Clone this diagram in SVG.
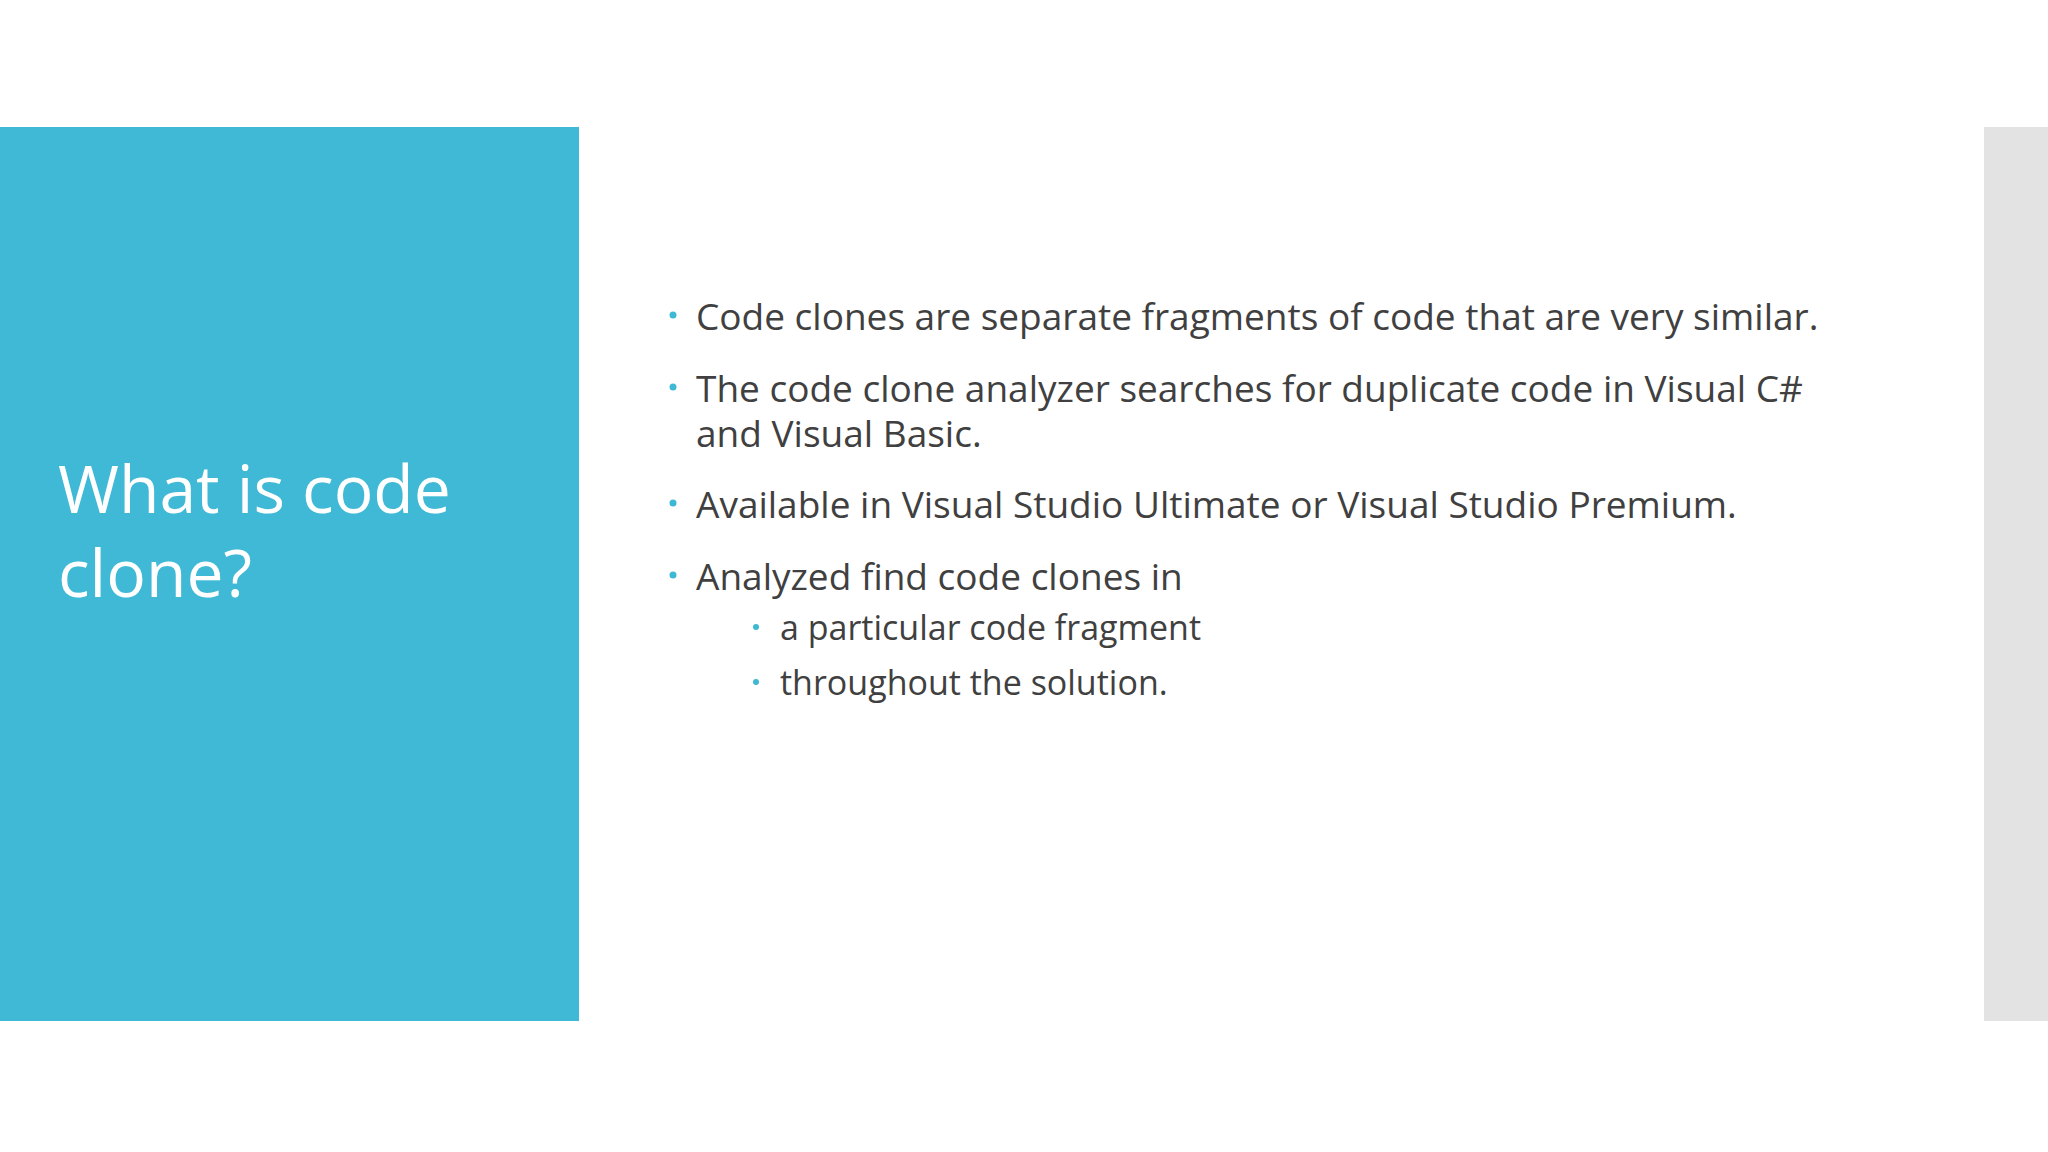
<svg xmlns="http://www.w3.org/2000/svg" width="2048" height="1152" viewBox="0 0 2048 1152">
<style>
.b{font-family:"Open Sans","Liberation Sans",sans-serif;font-size:37px;fill:#404040}
.s{font-family:"Open Sans","Liberation Sans",sans-serif;font-size:34px;fill:#404040}
.d{fill:#3fb8d4}
.t{font-family:"Open Sans","Liberation Sans",sans-serif;font-size:66px;fill:#ffffff}
</style>
<rect width="2048" height="1152" fill="#ffffff"/>
<g id="panel"><rect x="0" y="127" width="579" height="894" fill="#3fb9d5"/>
<text class="t" x="58" y="513">What is code</text>
<text class="t" x="58" y="597">clone?</text></g>
<g id="strip"><rect x="1984" y="127" width="64" height="894" fill="#e3e3e3"/></g>
<g id="bullets">
<circle class="d" cx="673" cy="315" r="3.5"/><text class="b" x="696" y="330">Code clones are separate fragments of code that are very similar.</text>
<circle class="d" cx="673" cy="387" r="3.5"/><text class="b" x="696" y="402">The code clone analyzer searches for duplicate code in Visual C#</text>
<text class="b" x="696" y="447">and Visual Basic.</text>
<circle class="d" cx="673" cy="503" r="3.5"/><text class="b" x="696" y="518">Available in Visual Studio Ultimate or Visual Studio Premium.</text>
<circle class="d" cx="673" cy="575" r="3.5"/><text class="b" x="696" y="590">Analyzed find code clones in</text>
<circle class="d" cx="756" cy="627" r="3"/><text class="s" x="780" y="640">a particular code fragment</text>
<circle class="d" cx="756" cy="682" r="3"/><text class="s" x="780" y="695">throughout the solution.</text>
</g>
</svg>
